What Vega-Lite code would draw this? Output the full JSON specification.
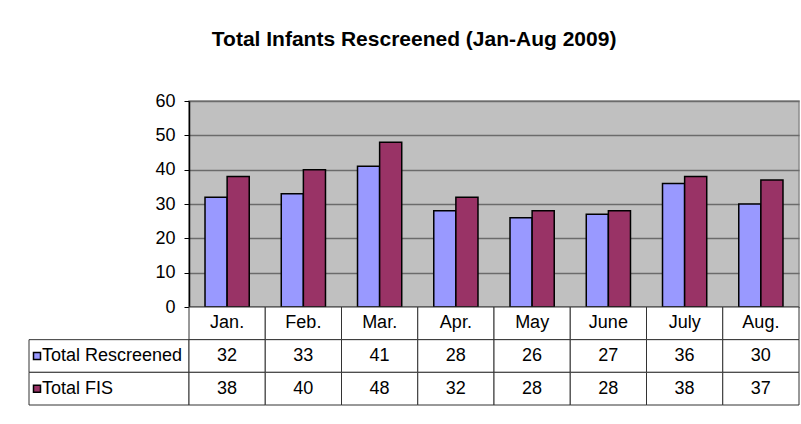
{
  "$schema": "https://vega.github.io/schema/vega-lite/v6.json",
  "padding": {"left": 28, "top": 29, "right": 3, "bottom": 10},
  "background": "white",
  "title": {"text": "Total Infants Rescreened (Jan-Aug 2009)", "font": "Liberation Sans", "fontSize": 21, "fontWeight": "bold", "color": "black", "anchor": "middle", "frame": "bounds", "offset": 41},
  "datasets": {
    "bars": [
      {"month": "Jan.", "series": "Total Rescreened", "value": 32},
      {"month": "Jan.", "series": "Total FIS", "value": 38},
      {"month": "Feb.", "series": "Total Rescreened", "value": 33},
      {"month": "Feb.", "series": "Total FIS", "value": 40},
      {"month": "Mar.", "series": "Total Rescreened", "value": 41},
      {"month": "Mar.", "series": "Total FIS", "value": 48},
      {"month": "Apr.", "series": "Total Rescreened", "value": 28},
      {"month": "Apr.", "series": "Total FIS", "value": 32},
      {"month": "May", "series": "Total Rescreened", "value": 26},
      {"month": "May", "series": "Total FIS", "value": 28},
      {"month": "June", "series": "Total Rescreened", "value": 27},
      {"month": "June", "series": "Total FIS", "value": 28},
      {"month": "July", "series": "Total Rescreened", "value": 36},
      {"month": "July", "series": "Total FIS", "value": 38},
      {"month": "Aug.", "series": "Total Rescreened", "value": 30},
      {"month": "Aug.", "series": "Total FIS", "value": 37}
    ],
    "months": [
      {"month": "Jan.", "row": "header"}, {"month": "Feb.", "row": "header"}, {"month": "Mar.", "row": "header"}, {"month": "Apr.", "row": "header"},
      {"month": "May", "row": "header"}, {"month": "June", "row": "header"}, {"month": "July", "row": "header"}, {"month": "Aug.", "row": "header"}
    ],
    "rows": [
      {"row": "Total Rescreened"},
      {"row": "Total FIS"}
    ]
  },
  "columns": 2,
  "spacing": 0,
  "bounds": "flush",
  "align": "each",
  "concat": [
    {
      "width": 160,
      "height": 206,
      "data": {"name": "rows"},
      "mark": {"type": "text", "text": "", "opacity": 0},
      "encoding": {}
    },
    {
      "width": 610,
      "height": 206,
      "view": {"fill": "#C0C0C0", "stroke": "#8c8c8c", "strokeWidth": 1.5},
      "data": {"name": "bars"},
      "mark": {"type": "bar", "stroke": "black", "strokeWidth": 1.5},
      "encoding": {
        "x": {"field": "month", "type": "nominal", "sort": ["Jan.", "Feb.", "Mar.", "Apr.", "May", "June", "July", "Aug."], "scale": {"paddingInner": 0.42, "paddingOuter": 0.21}, "axis": null},
        "xOffset": {"field": "series", "type": "nominal", "sort": ["Total Rescreened", "Total FIS"], "scale": {"paddingInner": 0, "paddingOuter": 0}},
        "y": {"field": "value", "type": "quantitative", "scale": {"domain": [0, 60], "nice": false}, "axis": {"values": [0, 10, 20, 30, 40, 50, 60], "title": null, "grid": true, "gridColor": "#6b6b6b", "gridWidth": 1.5, "domainColor": "black", "domainWidth": 1.5, "tickColor": "black", "tickSize": 5, "labelFont": "Liberation Sans", "labelFontSize": 18, "labelColor": "black", "labelPadding": 9}},
        "color": {"field": "series", "type": "nominal", "scale": {"domain": ["Total Rescreened", "Total FIS"], "range": ["#9999FF", "#993366"]}, "legend": null}
      }
    },
    {
      "width": 160,
      "height": 98,
      "data": {"name": "rows"},
      "layer": [
        {
          "mark": {"type": "rect", "fill": "white", "stroke": "#333333", "strokeWidth": 1},
          "encoding": {
            "y": {"field": "row", "type": "nominal", "scale": {"domain": ["header", "Total Rescreened", "Total FIS"], "paddingInner": 0, "paddingOuter": 0}, "axis": null}
          }
        },
        {
          "mark": {"type": "point", "shape": "square", "filled": true, "size": 49, "stroke": "black", "strokeWidth": 1.5, "opacity": 1},
          "encoding": {
            "x": {"value": 8},
            "y": {"field": "row", "type": "nominal", "axis": null},
            "fill": {"field": "row", "type": "nominal", "scale": {"domain": ["Total Rescreened", "Total FIS"], "range": ["#9999FF", "#993366"]}, "legend": null}
          }
        },
        {
          "mark": {"type": "text", "align": "left", "baseline": "middle", "font": "Liberation Sans", "fontSize": 18, "color": "black"},
          "encoding": {
            "x": {"value": 13},
            "y": {"field": "row", "type": "nominal", "axis": null},
            "text": {"field": "row"}
          }
        }
      ]
    },
    {
      "width": 610,
      "height": 98,
      "encoding": {
        "x": {"field": "month", "type": "nominal", "sort": ["Jan.", "Feb.", "Mar.", "Apr.", "May", "June", "July", "Aug."], "scale": {"paddingInner": 0, "paddingOuter": 0}, "axis": null},
        "y": {"field": "row", "type": "nominal", "scale": {"domain": ["header", "Total Rescreened", "Total FIS"], "paddingInner": 0, "paddingOuter": 0}, "axis": null}
      },
      "layer": [
        {
          "data": {"name": "months"},
          "mark": {"type": "rect", "fill": "white", "stroke": "#333333", "strokeWidth": 1}
        },
        {
          "data": {"name": "bars"},
          "transform": [{"calculate": "datum.series", "as": "row"}],
          "mark": {"type": "rect", "fill": "white", "stroke": "#333333", "strokeWidth": 1}
        },
        {
          "data": {"name": "months"},
          "mark": {"type": "text", "align": "center", "baseline": "middle", "font": "Liberation Sans", "fontSize": 18, "color": "black"},
          "encoding": {"text": {"field": "month"}}
        },
        {
          "data": {"name": "bars"},
          "transform": [{"calculate": "datum.series", "as": "row"}],
          "mark": {"type": "text", "align": "center", "baseline": "middle", "font": "Liberation Sans", "fontSize": 18, "color": "black"},
          "encoding": {"text": {"field": "value"}}
        }
      ]
    }
  ],
  "config": {
    "view": {"stroke": null},
    "font": "Liberation Sans"
  }
}
